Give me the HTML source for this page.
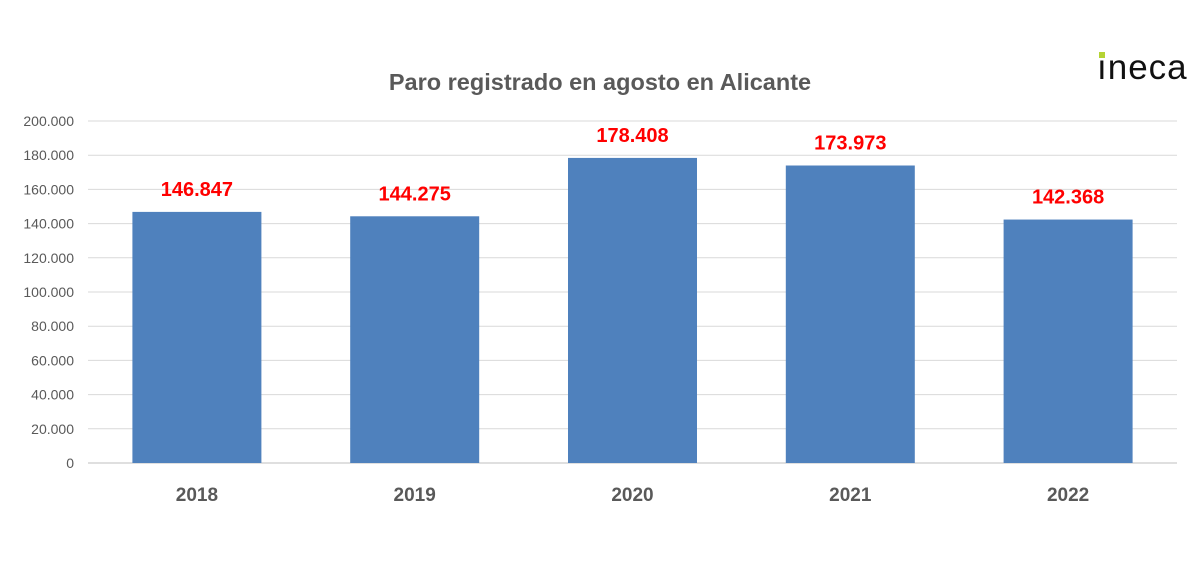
<!DOCTYPE html>
<html><head><meta charset="utf-8"><style>
body{margin:0;background:#fff;}
svg{display:block;font-family:"Liberation Sans",Calibri,sans-serif;}
</style></head><body>
<svg id="chart" width="1200" height="568" viewBox="0 0 1200 568">
<rect width="1200" height="568" fill="#fff"/>
<text x="600" y="90" text-anchor="middle" font-size="23.5" font-weight="bold" fill="#595959">Paro registrado en agosto en Alicante</text>
<g>
<text x="1097" y="79" font-size="35" letter-spacing="1" fill="#111">ıneca</text>
<rect x="1099" y="52" width="6" height="6" fill="#b5d334"/>
</g>
<g id="grid"></g><g id="bars"></g><g id="labels"></g>
</svg>
<script>
const categories=["2018","2019","2020","2021","2022"];
const values=[146847,144275,178408,173973,142368];
const printed=["146.847","144.275","178.408","173.973","142.368"];
const ticks=[0,20000,40000,60000,80000,100000,120000,140000,160000,180000,200000];
const tickLabels=["0","20.000","40.000","60.000","80.000","100.000","120.000","140.000","160.000","180.000","200.000"];
const NS="http://www.w3.org/2000/svg";
const x0=88,x1=1177,y0=463,yTop=121,maxV=200000;
const band=(x1-x0)/categories.length, bw=129;
const y=v=>y0-(v/maxV)*(y0-yTop);
const xc=i=>x0+band*(i+0.5);
function mk(t,a,p){const e=document.createElementNS(NS,t);for(const k in a)e.setAttribute(k,a[k]);p.appendChild(e);return e;}
const grid=document.getElementById('grid'),bars=document.getElementById('bars'),labels=document.getElementById('labels');
ticks.forEach((t,i)=>{
 const l=mk('line',{x1:x0,x2:x1,y1:y(t),y2:y(t),stroke:i===0?'#bfbfbf':'#d9d9d9','stroke-width':1},grid);
 
 
 const tx=mk('text',{x:74,y:y(t)+5,'text-anchor':'end','font-size':14,fill:'#595959'},grid);
 tx.textContent=tickLabels[i];
 
 
});
categories.forEach((c,i)=>{
 const r=mk('rect',{x:xc(i)-bw/2,y:y(values[i]),width:bw,height:y0-y(values[i]),fill:'#4f81bd'},bars);
 
 
 const v=mk('text',{x:xc(i),y:y(values[i])-16,'text-anchor':'middle','font-size':20,'font-weight':'bold',fill:'#ff0000'},labels);
 v.textContent=printed[i];
 
 
 const cl=mk('text',{x:xc(i),y:501,'text-anchor':'middle','font-size':19,'font-weight':'bold',fill:'#595959'},labels);
 cl.textContent=c;
 
 
});
</script>
</body></html>
